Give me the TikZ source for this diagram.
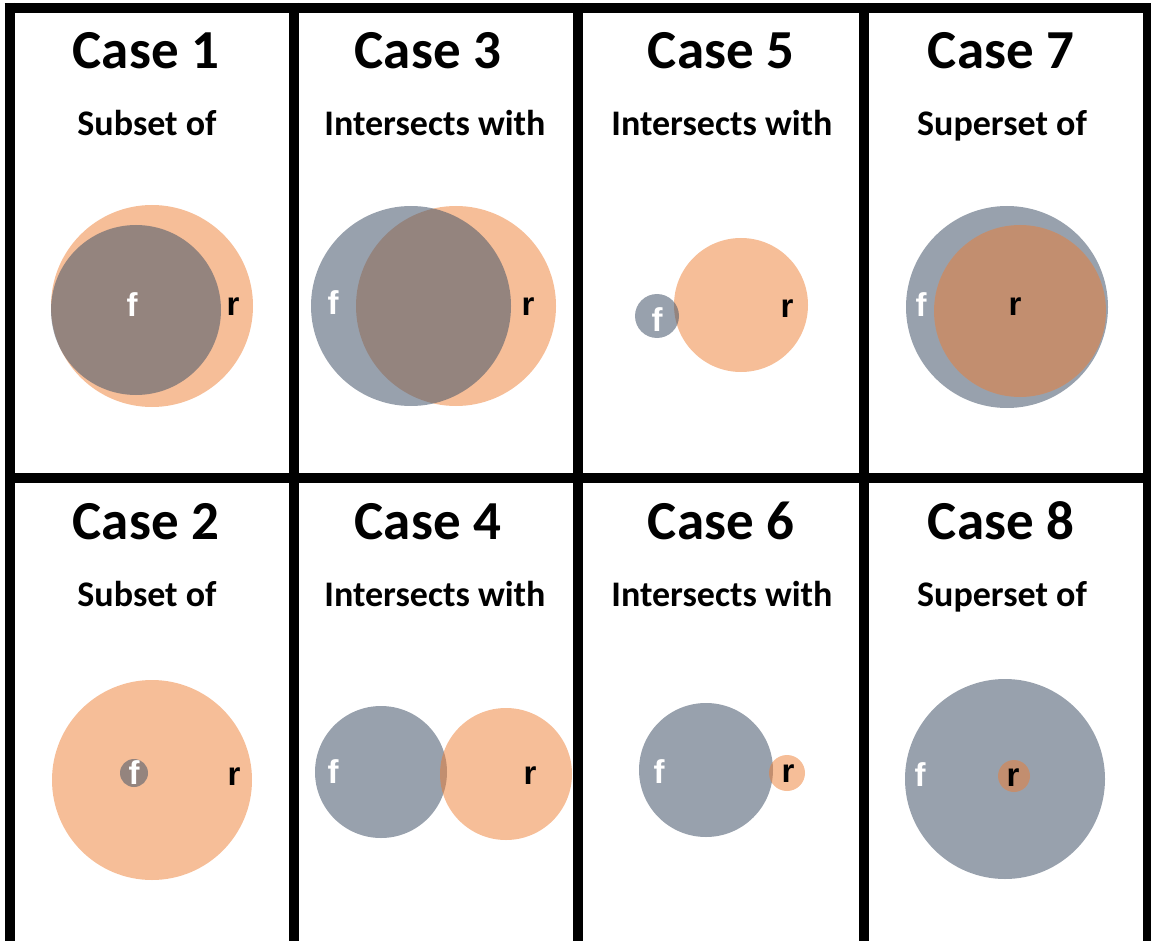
\documentclass[tikz,border=0pt]{standalone}
\usepackage{fontspec}
\setmainfont{Carlito}
\newfontfamily\labelfont{Liberation Sans}
\definecolor{fgray}{HTML}{44546A}
\definecolor{rorange}{HTML}{ED7D31}

\begin{document}
\begin{tikzpicture}[x=1pt,y=-1pt,
  fset/.style={fill=fgray, fill opacity=0.55},
  rset/.style={fill=rorange, fill opacity=0.5},
  casehead/.style={font=\fontsize{55}{60}\selectfont\bfseries, anchor=base},
  relation/.style={font=\fontsize{36}{40}\selectfont\bfseries, anchor=base},
  flabel/.style={font=\labelfont\fontsize{33}{36}\selectfont\bfseries, text=white, inner sep=0pt},
  rlabel/.style={font=\labelfont\fontsize{33}{36}\selectfont\bfseries, text=black, inner sep=0pt}]
\useasboundingbox (0,0) rectangle (1151,941);
\clip (0,0) rectangle (1151,941);

% frame
\draw[line width=10pt] (4.5,8) -- (1151,8);
\draw[line width=10pt] (9.5,477.5) -- (1151,477.5);
\foreach \x in {9.5,293.5,578,863.5,1148} % column lines
\draw[line width=10pt] (\x,3) -- (\x,941);

% headings, top row
\node[casehead] (head1) at (146,69) {Case 1};
\node[relation] (rel1) at (147,136) {Subset of};
\node[casehead] (head3) at (428,69) {Case 3};
\node[relation] (rel3) at (435,136) {Intersects with};
\node[casehead] (head5) at (721,69) {Case 5};
\node[relation] (rel5) at (722,136) {Intersects with};
\node[casehead] (head7) at (1001,69) {Case 7};
\node[relation] (rel7) at (1002,136) {Superset of};
% headings, bottom row
\node[casehead] (head2) at (146,539) {Case 2};
\node[relation] (rel2) at (147,606) {Subset of};
\node[casehead] (head4) at (428,539) {Case 4};
\node[relation] (rel4) at (435,606) {Intersects with};
\node[casehead] (head6) at (721,539) {Case 6};
\node[relation] (rel6) at (722,606) {Intersects with};
\node[casehead] (head8) at (1001,539) {Case 8};
\node[relation] (rel8) at (1002,606) {Superset of};

% case 1
\fill[rset] (152,306) circle (101);
\fill[fset] (136,310) circle (85);
\node[flabel] (f1) at (132,305) {f};
\node[rlabel] (r1) at (233,307) {r};
% case 3
\fill[rset] (456,306) circle (100);
\fill[fset] (411,306) circle (100);
\node[flabel] (f3) at (333,303) {f};
\node[rlabel] (r3) at (528,307) {r};
% case 5
\fill[rset] (741,305) circle (67);
\fill[fset] (657,316) circle (22);
\node[flabel] (f5) at (657,320) {f};
\node[rlabel] (r5) at (787,309) {r};
% case 7
\fill[fset] (1007,307) circle (101);
\fill[rset] (1020,311) circle (86);
\node[flabel] (f7) at (921,305) {f};
\node[rlabel] (r7) at (1015,307) {r};

% case 2
\fill[rset] (152,780) circle (100);
\fill[fset] (134,773) circle (14);
\node[flabel] (f2) at (134,773) {f};
\node[rlabel] (r2) at (234,777) {r};
% case 4
\fill[fset] (381,772) circle (66);
\fill[rset] (506,774) circle (66);
\node[flabel] (f4) at (333,772) {f};
\node[rlabel] (r4) at (530,776) {r};
% case 6
\fill[fset] (706,770) circle (67);
\fill[rset] (787,773) circle (18);
\node[flabel] (f6) at (659,772) {f};
\node[rlabel] (r6) at (788,774) {r};
% case 8
\fill[fset] (1005,779) circle (100);
\fill[rset] (1014,776) circle (16);
\node[flabel] (f8) at (920,775) {f};
\node[rlabel] (r8) at (1013,778) {r};

\end{tikzpicture}
\end{document}
